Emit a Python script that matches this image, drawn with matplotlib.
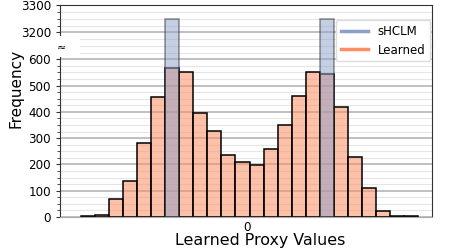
import numpy as np
import matplotlib
matplotlib.use('Agg')
import matplotlib.pyplot as plt
from matplotlib.ticker import MultipleLocator
from matplotlib.lines import Line2D
from matplotlib.patches import Rectangle

# histogram counts
bin_lo = -1.18
bin_hi = 1.22
learned_counts = [5, 9, 70, 137, 280, 457, 565, 550, 395, 328, 236, 210,
                  198, 257, 350, 462, 550, 543, 418, 227, 109, 24, 4, 4]
shclm_counts = [0, 0, 0, 0, 0, 0, 3250, 0, 0, 0, 0, 0,
                0, 0, 0, 0, 0, 3250, 0, 0, 0, 0, 0, 0]
labels = ['sHCLM', 'Learned']
xticks = [0]

blue = '#8da0cb'
orange = '#fc8d62'

edges = np.linspace(bin_lo, bin_hi, len(learned_counts) + 1)
widths = np.diff(edges)

fig = plt.figure(figsize=(4.63, 2.49), dpi=100)
ax_top = fig.add_axes([0.1296, 0.815, 0.8034, 0.165])
ax_bot = fig.add_axes([0.1296, 0.1285, 0.8034, 0.6865])

for ax in (ax_top, ax_bot):
    ax.bar(edges[:-1], learned_counts, width=widths, align='edge',
           facecolor=matplotlib.colors.to_rgba(orange, 0.55), edgecolor='black', linewidth=1.1, zorder=2)
    ax.bar(edges[:-1], shclm_counts, width=widths, align='edge',
           color=blue, alpha=0.5, edgecolor='#222222', linewidth=1.1, zorder=3)
    ax.set_xlim(-1.326, 1.316)
    ax.yaxis.set_minor_locator(MultipleLocator(25))
    ax.grid(axis='y', which='major', color='#b5b5b5', linewidth=1.2, zorder=0)
    ax.grid(axis='y', which='minor', color='#e6e6e6', linewidth=0.8, zorder=0)
    ax.set_axisbelow(True)
    ax.tick_params(axis='y', which='major', labelsize=8.6, length=3, color='#333333')
    ax.tick_params(axis='y', which='minor', length=2, color='#333333')
    for s in ax.spines.values():
        s.set_color('#333333')

ax_top.set_ylim(3150, 3300)
ax_top.set_yticks([3200, 3300])
ax_top.spines['bottom'].set_visible(False)
ax_top.set_xticks([])

ax_bot.set_ylim(0, 650)
ax_bot.set_yticks(range(0, 700, 100))
ax_bot.spines['top'].set_visible(False)
ax_bot.spines['bottom'].set_color('#aaaaaa')
ax_bot.set_xticks(xticks)
ax_bot.tick_params(axis='x', labelsize=8.6, length=0, pad=3)

fig.text(260 / 463, 1 - 245 / 249, 'Learned Proxy Values', fontsize=11.4, ha='center', va='baseline')
fig.text(0.034, 1 - 88 / 249, 'Frequency', rotation=90, fontsize=11, va='center', ha='center')

# break marker
fig.patches.append(Rectangle((56 / 463, 1 - 57 / 249), 24 / 463, 21 / 249,
                             transform=fig.transFigure, facecolor='white', edgecolor='none', zorder=5))
fig.text(61 / 463, 1 - 48 / 249, '≈', fontsize=8, ha='center', va='center', zorder=6)

handles = [Line2D([], [], color=blue, lw=2.5), Line2D([], [], color=orange, lw=2.5)]
fig.legend(handles, labels, loc='upper right', bbox_to_anchor=(430 / 463, 1 - 20 / 249),
           borderaxespad=0, fontsize=8.5, handlelength=2.3, framealpha=1, edgecolor='#dddddd')

fig.savefig('out.png', dpi=100)
